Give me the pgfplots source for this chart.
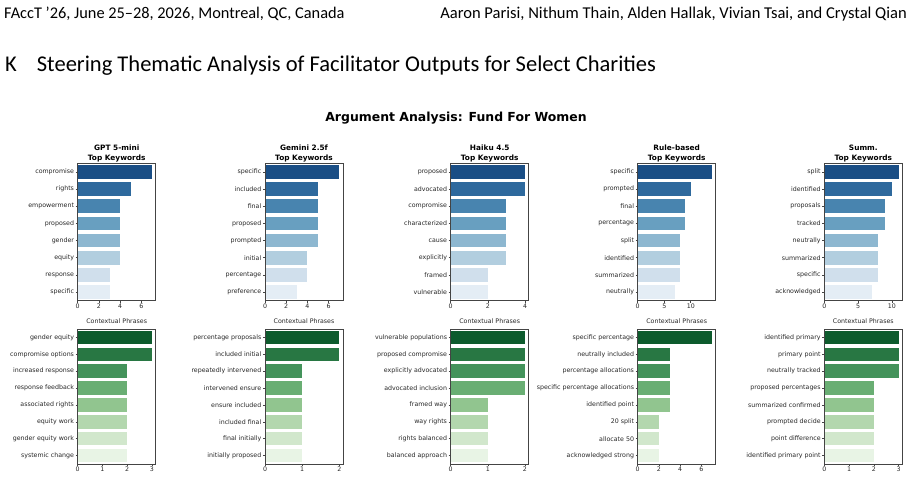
\documentclass[border=0pt]{standalone}
\usepackage{fontspec}
\usepackage{pgfplots}
\pgfplotsset{compat=1.18}
\newfontfamily\djv{DejaVu Sans}
\newfontfamily\hdr{Carlito}
\definecolor{b1}{HTML}{1A4E85}
\definecolor{b2}{HTML}{2E699D}
\definecolor{b3}{HTML}{4884AF}
\definecolor{b4}{HTML}{689FC0}
\definecolor{b5}{HTML}{8DB7D0}
\definecolor{b6}{HTML}{B2CEDF}
\definecolor{b7}{HTML}{D0DFEC}
\definecolor{b8}{HTML}{E4EDF5}
\definecolor{g1}{HTML}{0D5B2D}
\definecolor{g2}{HTML}{287743}
\definecolor{g3}{HTML}{44935B}
\definecolor{g4}{HTML}{69AE73}
\definecolor{g5}{HTML}{91C58F}
\definecolor{g6}{HTML}{B3D7AE}
\definecolor{g7}{HTML}{D1E7CC}
\definecolor{g8}{HTML}{E8F4E5}
\definecolor{axgray}{HTML}{444444}
\definecolor{tickc}{HTML}{262626}
\pgfplotsset{
  hb/.style={scale only axis, width=78bp, xbar, bar width=0.8, bar shift=0pt,
    ymin=-0.5, ymax=7.5, y dir=reverse, xmin=0, ytick={0,...,7},
    axis line style={draw=axgray, line width=0.7bp},
    tick style={draw=axgray, line width=0.6bp},
    tick align=outside, xtick pos=bottom, ytick pos=left, major tick length=2bp,
    ticklabel style={font=\djv\fontsize{6.3}{7}\selectfont, text=tickc},
    /pgf/number format/assume math mode=true,
    xticklabel style={inner sep=1bp},
    yticklabel style={inner sep=1.5bp},
    axis on top, clip=false},
  top/.style={hb, height=137.4bp},
  bot/.style={hb, height=135bp}
}
\begin{document}
\begin{tikzpicture}[x=1bp,y=1bp]
\useasboundingbox (0,0) rectangle (912,480);
% page header and section title
\node[anchor=base west, inner sep=0] at (4,461.5) {\hdr\fontsize{16.4}{18}\selectfont FAccT ’26, June 25–28, 2026, Montreal, QC, Canada};
\node[anchor=base east, inner sep=0] at (907,461.5) {\hdr\fontsize{16.6}{18}\selectfont Aaron Parisi, Nithum Thain, Alden Hallak, Vivian Tsai, and Crystal Qian};
\node[anchor=base west, inner sep=0] at (5,408) {\hdr\fontsize{22.6}{25}\selectfont K\hspace{20bp}Steering Thematic Analysis of Facilitator Outputs for Select Charities};
% figure title
\node[anchor=base, inner sep=0] at (456,358.5) {\djv\bfseries\fontsize{12.5}{14}\selectfont Argument Analysis: Fund For Women};
% subplot titles
\foreach \cx/\nm in {116.7/GPT 5-mini, 304/Gemini 2.5f, 489.7/Haiku 4.5, 676.7/Rule-based, 863.3/Summ.}{
  \node[anchor=base, inner sep=0] at (\cx,329.3) {\djv\bfseries\fontsize{7.4}{9}\selectfont \nm};
  \node[anchor=base, inner sep=0] at (\cx,319.3) {\djv\bfseries\fontsize{7.4}{9}\selectfont Top Keywords};
  \node[anchor=base, inner sep=0] at (\cx,156.3) {\djv\fontsize{6.3}{7}\selectfont\color{tickc} Contextual Phrases};
}
% ---------- top row ----------
\begin{axis}[top, at={(77.7bp,179.3bp)}, anchor=south west, xmax=7.35, xtick={0,2,4,6},
  yticklabels={compromise,rights,empowerment,proposed,gender,equity,response,specific}]
\addplot[fill=b1,draw=none] coordinates {(7,0)};
\addplot[fill=b2,draw=none] coordinates {(5,1)};
\addplot[fill=b3,draw=none] coordinates {(4,2)};
\addplot[fill=b4,draw=none] coordinates {(4,3)};
\addplot[fill=b5,draw=none] coordinates {(4,4)};
\addplot[fill=b6,draw=none] coordinates {(4,5)};
\addplot[fill=b7,draw=none] coordinates {(3,6)};
\addplot[fill=b8,draw=none] coordinates {(3,7)};
\end{axis}
\begin{axis}[top, at={(265bp,179.3bp)}, anchor=south west, xmax=7.35, xtick={0,2,4,6},
  yticklabels={specific,included,final,proposed,prompted,initial,percentage,preference}]
\addplot[fill=b1,draw=none] coordinates {(7,0)};
\addplot[fill=b2,draw=none] coordinates {(5,1)};
\addplot[fill=b3,draw=none] coordinates {(5,2)};
\addplot[fill=b4,draw=none] coordinates {(5,3)};
\addplot[fill=b5,draw=none] coordinates {(5,4)};
\addplot[fill=b6,draw=none] coordinates {(4,5)};
\addplot[fill=b7,draw=none] coordinates {(4,6)};
\addplot[fill=b8,draw=none] coordinates {(3,7)};
\end{axis}
\begin{axis}[top, at={(450.7bp,179.3bp)}, anchor=south west, xmax=4.2, xtick={0,2,4},
  yticklabels={proposed,advocated,compromise,characterized,cause,explicitly,framed,vulnerable}]
\addplot[fill=b1,draw=none] coordinates {(4,0)};
\addplot[fill=b2,draw=none] coordinates {(4,1)};
\addplot[fill=b3,draw=none] coordinates {(3,2)};
\addplot[fill=b4,draw=none] coordinates {(3,3)};
\addplot[fill=b5,draw=none] coordinates {(3,4)};
\addplot[fill=b6,draw=none] coordinates {(3,5)};
\addplot[fill=b7,draw=none] coordinates {(2,6)};
\addplot[fill=b8,draw=none] coordinates {(2,7)};
\end{axis}
\begin{axis}[top, at={(637.7bp,179.3bp)}, anchor=south west, xmax=14.7, xtick={0,5,10},
  yticklabels={specific,prompted,final,percentage,split,identified,summarized,neutrally}]
\addplot[fill=b1,draw=none] coordinates {(14,0)};
\addplot[fill=b2,draw=none] coordinates {(10,1)};
\addplot[fill=b3,draw=none] coordinates {(9,2)};
\addplot[fill=b4,draw=none] coordinates {(9,3)};
\addplot[fill=b5,draw=none] coordinates {(8,4)};
\addplot[fill=b6,draw=none] coordinates {(8,5)};
\addplot[fill=b7,draw=none] coordinates {(8,6)};
\addplot[fill=b8,draw=none] coordinates {(7,7)};
\end{axis}
\begin{axis}[top, at={(824.3bp,179.3bp)}, anchor=south west, xmax=11.55, xtick={0,5,10},
  yticklabels={split,identified,proposals,tracked,neutrally,summarized,specific,acknowledged}]
\addplot[fill=b1,draw=none] coordinates {(11,0)};
\addplot[fill=b2,draw=none] coordinates {(10,1)};
\addplot[fill=b3,draw=none] coordinates {(9,2)};
\addplot[fill=b4,draw=none] coordinates {(9,3)};
\addplot[fill=b5,draw=none] coordinates {(8,4)};
\addplot[fill=b6,draw=none] coordinates {(8,5)};
\addplot[fill=b7,draw=none] coordinates {(8,6)};
\addplot[fill=b8,draw=none] coordinates {(7,7)};
\end{axis}
% ---------- bottom row ----------
\begin{axis}[bot, at={(77.7bp,16bp)}, anchor=south west, xmax=3.15, xtick={0,1,2,3},
  yticklabels={gender equity,compromise options,increased response,response feedback,associated rights,equity work,gender equity work,systemic change}]
\addplot[fill=g1,draw=none] coordinates {(3,0)};
\addplot[fill=g2,draw=none] coordinates {(3,1)};
\addplot[fill=g3,draw=none] coordinates {(2,2)};
\addplot[fill=g4,draw=none] coordinates {(2,3)};
\addplot[fill=g5,draw=none] coordinates {(2,4)};
\addplot[fill=g6,draw=none] coordinates {(2,5)};
\addplot[fill=g7,draw=none] coordinates {(2,6)};
\addplot[fill=g8,draw=none] coordinates {(2,7)};
\end{axis}
\begin{axis}[bot, at={(265bp,16bp)}, anchor=south west, xmax=2.1, xtick={0,1,2},
  yticklabels={percentage proposals,included initial,repeatedly intervened,intervened ensure,ensure included,included final,final initially,initially proposed}]
\addplot[fill=g1,draw=none] coordinates {(2,0)};
\addplot[fill=g2,draw=none] coordinates {(2,1)};
\addplot[fill=g3,draw=none] coordinates {(1,2)};
\addplot[fill=g4,draw=none] coordinates {(1,3)};
\addplot[fill=g5,draw=none] coordinates {(1,4)};
\addplot[fill=g6,draw=none] coordinates {(1,5)};
\addplot[fill=g7,draw=none] coordinates {(1,6)};
\addplot[fill=g8,draw=none] coordinates {(1,7)};
\end{axis}
\begin{axis}[bot, at={(450.7bp,16bp)}, anchor=south west, xmax=2.1, xtick={0,1,2},
  yticklabels={vulnerable populations,proposed compromise,explicitly advocated,advocated inclusion,framed way,way rights,rights balanced,balanced approach}]
\addplot[fill=g1,draw=none] coordinates {(2,0)};
\addplot[fill=g2,draw=none] coordinates {(2,1)};
\addplot[fill=g3,draw=none] coordinates {(2,2)};
\addplot[fill=g4,draw=none] coordinates {(2,3)};
\addplot[fill=g5,draw=none] coordinates {(1,4)};
\addplot[fill=g6,draw=none] coordinates {(1,5)};
\addplot[fill=g7,draw=none] coordinates {(1,6)};
\addplot[fill=g8,draw=none] coordinates {(1,7)};
\end{axis}
\begin{axis}[bot, at={(637.7bp,16bp)}, anchor=south west, xmax=7.35, xtick={0,2,4,6},
  yticklabels={specific percentage,neutrally included,percentage allocations,specific percentage allocations,identified point,20 split,allocate 50,acknowledged strong}]
\addplot[fill=g1,draw=none] coordinates {(7,0)};
\addplot[fill=g2,draw=none] coordinates {(3,1)};
\addplot[fill=g3,draw=none] coordinates {(3,2)};
\addplot[fill=g4,draw=none] coordinates {(3,3)};
\addplot[fill=g5,draw=none] coordinates {(3,4)};
\addplot[fill=g6,draw=none] coordinates {(2,5)};
\addplot[fill=g7,draw=none] coordinates {(2,6)};
\addplot[fill=g8,draw=none] coordinates {(2,7)};
\end{axis}
\begin{axis}[bot, at={(824.3bp,16bp)}, anchor=south west, xmax=3.15, xtick={0,1,2,3},
  yticklabels={identified primary,primary point,neutrally tracked,proposed percentages,summarized confirmed,prompted decide,point difference,identified primary point}]
\addplot[fill=g1,draw=none] coordinates {(3,0)};
\addplot[fill=g2,draw=none] coordinates {(3,1)};
\addplot[fill=g3,draw=none] coordinates {(3,2)};
\addplot[fill=g4,draw=none] coordinates {(2,3)};
\addplot[fill=g5,draw=none] coordinates {(2,4)};
\addplot[fill=g6,draw=none] coordinates {(2,5)};
\addplot[fill=g7,draw=none] coordinates {(2,6)};
\addplot[fill=g8,draw=none] coordinates {(2,7)};
\end{axis}
\end{tikzpicture}
\end{document}
